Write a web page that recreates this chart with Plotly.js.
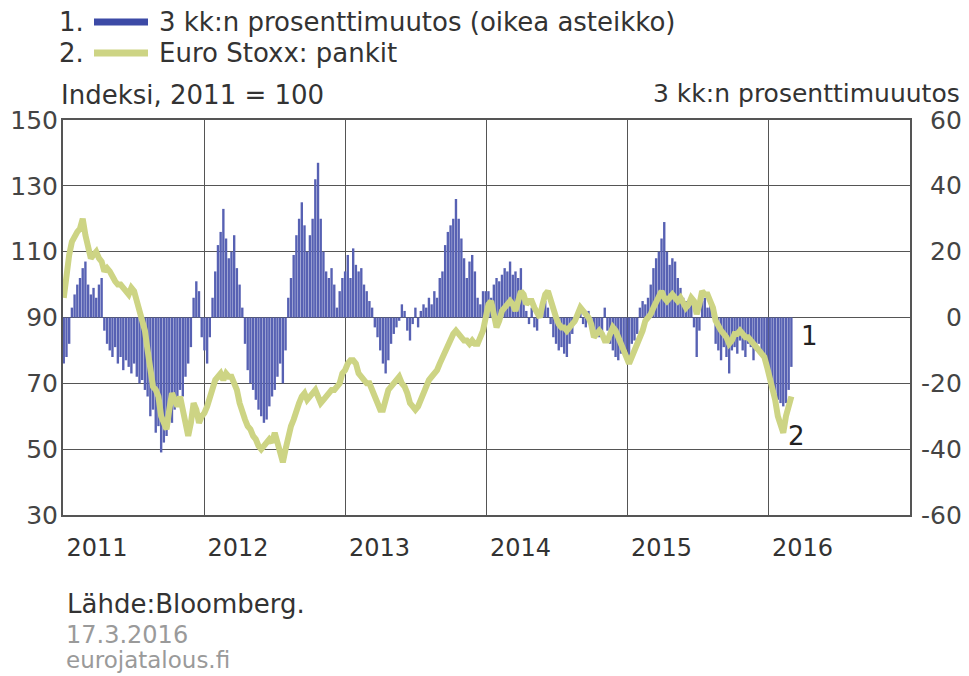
<!DOCTYPE html>
<html>
<head>
<meta charset="utf-8">
<script src="https://cdn.plot.ly/plotly-3.0.1.min.js"></script>
<style>
  html, body { margin: 0; padding: 0; background: #fff; }
  #chart { width: 969px; height: 676px; }
</style>
</head>
<body>
<div id="chart"></div>
<script>
// ---- Data (weekly observations, first week starting 2011-01-03) ----
const firstWeek = '2011-01-03';

// 3 kk:n prosenttimuutos (right axis, %)
const pct2011 = [-14,-12,-8,3,7,10,12,15,17,10,7,9,6,10,12,-4,-8,-10,-12,-9,-14,-12,-16,-13,-15,-17,-14,-18,-20,-19,-22,-24,-30,-28,-35,-33,-41,-38,-36,-30,-32,-28,-26,-22,-24,-18,-14,-9,6,11,8,-6];
const pct2012 = [-10,-14,-6,6,14,22,26,33,24,18,20,25,15,10,3,-8,-16,-20,-22,-25,-28,-30,-32,-31,-27,-24,-22,-18,-14,-20,-10,6,12,19,25,30,35,28,20,25,30,42,47,30,20,14,12,15,10,3,8,12];
const pct2013 = [14,19,12,21,16,14,15,10,8,5,3,-3,-6,-10,-14,-17,-13,-8,-5,-3,-1,4,2,-4,-7,-2,3,-3,2,4,3,6,4,8,6,12,14,22,26,28,30,36,30,24,18,12,17,19,14,6,4,8];
const pct2014 = [8,8,6,10,12,11,13,15,14,17,13,14,12,15,6,2,-2,3,-3,-4,2,4,5,3,-2,-6,-8,-10,-9,-11,-12,-8,-5,-2,2,3,-2,-3,2,-3,-5,-4,-6,-5,3,-4,-8,-10,-12,-13,-11,-9];
const pct2015 = [-10,-12,-8,-7,-5,3,5,4,6,10,15,18,20,24,29,20,16,18,17,12,9,6,5,3,4,-3,-12,-4,5,6,3,4,2,-8,-10,-13,-9,-12,-17,-10,-9,-11,-7,-10,-12,-8,-9,-13,-10,-8,-11,-12];
const pct2016 = [-15,-18,-21,-23,-25,-26,-27,-26,-22,-15];

// Euro Stoxx: pankit (left axis, index 2011 = 100)
const idx2011 = [96,104,109,113,115,116,117,120,115,112,108,109,110,108,107,104,105,104,102,101,100,100,99,98,97,99,98,95,92,88,86,80,73,69,68,66,60,58,56,62,67,65,63,66,62,59,54,58,64,62,58,60];
const idx2012 = [61,63,66,68,71,72,73,71,73,72,72,70,68,64,61,59,57,56,54,53,51,50,51,52,53,52,55,52,48,46,50,54,57,59,62,64,66,67,65,66,67,68,66,64,65,66,67,68,68,69,70,73];
const idx2013 = [74,76,77,77,76,73,72,71,70,70,68,66,63,62,62,65,68,69,70,71,72,70,69,67,64,63,62,63,65,68,70,71,72,73,74,76,78,79,81,83,85,86,85,84,83,83,82,83,82,82,84,86];
const idx2014 = [90,94,95,91,87,89,92,93,94,95,94,92,95,98,97,94,95,95,93,91,90,94,97,98,95,93,90,88,87,87,86,87,88,89,91,93,92,91,90,88,84,85,86,85,83,83,85,87,86,84,83,80];
const idx2015 = [78,76,78,80,82,83,86,89,90,91,93,95,97,98,96,95,96,97,96,95,96,94,93,94,96,95,91,94,98,97,97,95,93,89,87,86,85,84,82,83,85,85,86,85,84,84,83,82,81,80,79,78];
const idx2016 = [75,72,69,65,60,57,55,60,64,66];

// Axis ticks
const yearStarts = ['2011-01-01','2012-01-01','2013-01-01','2014-01-01','2015-01-01','2016-01-01'];
const yearLabels = ['2011','2012','2013','2014','2015','2016'];
const leftTicks = [30,50,70,90,110,130,150];
const rightTicks = [-60,-40,-20,0,20,40,60];

// Texts
const legendNames = ['3 kk:n prosenttimuutos (oikea asteikko)', 'Euro Stoxx: pankit'];
const leftTitle = 'Indeksi, 2011 = 100';
const rightTitle = '3 kk:n prosenttimuuutos';
const sourceText = 'Lähde:Bloomberg.';
const dateText = '17.3.2016';
const siteText = 'eurojatalous.fi';

// ---- Build ----
const pct = [].concat(pct2011, pct2012, pct2013, pct2014, pct2015, pct2016);
const idx = [].concat(idx2011, idx2012, idx2013, idx2014, idx2015, idx2016);
const dates = [];
{
  const d0 = new Date(firstWeek + 'T00:00:00Z');
  for (let i = 0; i < pct.length; i++) {
    const d = new Date(d0.getTime() + i * 7 * 86400000);
    dates.push(d.toISOString().slice(0, 10));
  }
}

const BLUE = '#5761b3';
const BLUE_LEG = '#3c4aa6';
const YELLOW = '#cdd484';
const GRID = '#555555';
const FONT = 'DejaVu Sans, sans-serif';

// pixel helpers for paper coords (plot area: x 63..910, y 120..515)
const L = 63, R = 910, T = 120, B = 515;
const px = x => (x - L) / (R - L);
const py = y => (B - y) / (B - T);

const traces = [
  {
    type: 'bar', x: dates, y: pct, yaxis: 'y', xaxis: 'x',
    marker: { color: BLUE, line: { width: 0 } },
    hoverinfo: 'x+y', name: legendNames[0]
  },
  {
    type: 'scatter', mode: 'lines', x: dates, y: idx, yaxis: 'y2', xaxis: 'x',
    line: { color: YELLOW, width: 6 },
    name: legendNames[1]
  }
];

const annotations = [];
// right axis tick labels (right-aligned)
rightTicks.forEach(v => annotations.push({
  xref: 'paper', yref: 'y', x: px(963), y: v, text: String(v),
  showarrow: false, xanchor: 'right', yanchor: 'middle', borderpad: 0,
  font: { family: FONT, size: 25, color: '#444' }
}));
// legend
const legendRows = [22, 53];
annotations.push(
  { xref: 'paper', yref: 'paper', x: px(57), y: py(legendRows[0]), text: '1.', showarrow: false, xanchor: 'left', yanchor: 'middle', font: { family: FONT, size: 26, color: '#333' } },
  { xref: 'paper', yref: 'paper', x: px(157), y: py(legendRows[0]), text: legendNames[0], showarrow: false, xanchor: 'left', yanchor: 'middle', font: { family: FONT, size: 26, color: '#333' } },
  { xref: 'paper', yref: 'paper', x: px(57), y: py(legendRows[1]), text: '2.', showarrow: false, xanchor: 'left', yanchor: 'middle', font: { family: FONT, size: 26, color: '#333' } },
  { xref: 'paper', yref: 'paper', x: px(157), y: py(legendRows[1]), text: legendNames[1], showarrow: false, xanchor: 'left', yanchor: 'middle', font: { family: FONT, size: 26, color: '#333' } }
);
// axis titles
annotations.push(
  { xref: 'paper', yref: 'paper', x: px(60), y: py(95), text: leftTitle, showarrow: false, xanchor: 'left', yanchor: 'middle', borderpad: 0, font: { family: FONT, size: 26, color: '#333' } },
  { xref: 'paper', yref: 'paper', x: px(961), y: py(93), text: rightTitle, showarrow: false, xanchor: 'right', yanchor: 'middle', borderpad: 0, font: { family: FONT, size: 25, color: '#333' } }
);
// series labels
annotations.push(
  { xref: 'x', yref: 'y', x: '2016-04-16', y: -5.5, text: '1', showarrow: false, xanchor: 'center', yanchor: 'middle', font: { family: FONT, size: 26, color: '#222' } },
  { xref: 'x', yref: 'y', x: '2016-03-14', y: -36, text: '2', showarrow: false, xanchor: 'center', yanchor: 'middle', font: { family: FONT, size: 26, color: '#222' } }
);
// footer
annotations.push(
  { xref: 'paper', yref: 'paper', x: px(65), y: py(604), text: sourceText, showarrow: false, xanchor: 'left', yanchor: 'middle', font: { family: FONT, size: 26, color: '#333' } },
  { xref: 'paper', yref: 'paper', x: px(65), y: py(635), text: dateText, showarrow: false, xanchor: 'left', yanchor: 'middle', borderpad: 0, font: { family: FONT, size: 24, color: '#9a9a9a' } },
  { xref: 'paper', yref: 'paper', x: px(65), y: py(660), text: siteText, showarrow: false, xanchor: 'left', yanchor: 'middle', borderpad: 0, font: { family: FONT, size: 23, color: '#9a9a9a' } }
);

const shapes = [
  { type: 'line', xref: 'paper', yref: 'paper', x0: px(94), x1: px(148), y0: py(legendRows[0]), y1: py(legendRows[0]), line: { color: BLUE_LEG, width: 7 } },
  { type: 'line', xref: 'paper', yref: 'paper', x0: px(94), x1: px(148), y0: py(legendRows[1]), y1: py(legendRows[1]), line: { color: YELLOW, width: 7 } }
];

const layout = {
  width: 969, height: 676,
  margin: { l: L, r: 969 - R, t: T, b: 676 - B, pad: 0 },
  paper_bgcolor: '#fff', plot_bgcolor: '#fff',
  showlegend: false,
  bargap: 0.12,
  font: { family: FONT, color: '#333' },
  xaxis: {
    type: 'date', range: ['2011-01-01', '2017-01-01'],
    tickmode: 'array', tickvals: yearStarts, ticktext: yearLabels,
    ticks: '', ticklabelshift: 34, ticklabelstandoff: 10,
    tickfont: { family: FONT, size: 24, color: '#333' },
    showgrid: true, gridcolor: GRID, gridwidth: 1,
    showline: true, linecolor: GRID, linewidth: 2, mirror: true,
    zeroline: false, fixedrange: true
  },
  yaxis: {
    side: 'right', range: [-60, 60], tickmode: 'array', tickvals: rightTicks,
    showticklabels: false, ticks: '',
    showgrid: true, gridcolor: GRID, gridwidth: 1,
    showline: true, linecolor: GRID, linewidth: 2, mirror: true,
    zeroline: false, fixedrange: true
  },
  yaxis2: {
    overlaying: 'y', side: 'left', range: [30, 150], tickmode: 'array', tickvals: leftTicks,
    ticks: '', ticklabelstandoff: 4,
    tickfont: { family: FONT, size: 25, color: '#444' },
    showgrid: false, showline: false, zeroline: false, fixedrange: true
  },
  annotations: annotations,
  shapes: shapes
};

Plotly.newPlot('chart', traces, layout, { displayModeBar: false, staticPlot: true });
</script>
</body>
</html>
